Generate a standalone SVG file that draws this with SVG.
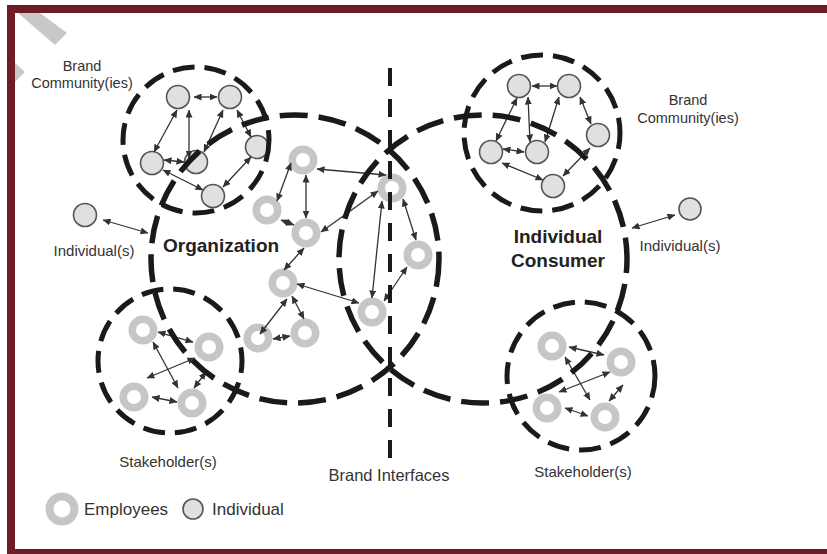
<svg xmlns="http://www.w3.org/2000/svg" width="827" height="554" viewBox="0 0 827 554">
<defs>
<marker id="ah" markerUnits="userSpaceOnUse" markerWidth="8" markerHeight="7" refX="7.5" refY="3.5" orient="auto-start-reverse"><path d="M0,0 L8,3.5 L0,7 z" fill="#333"/></marker>
<style>
.lbl{font-family:"Liberation Sans",Arial,sans-serif;fill:#333;}
.big{font-family:"Liberation Sans",Arial,sans-serif;font-weight:bold;font-size:19px;fill:#222;}
.ring{fill:#fff;stroke:#c6c6c6;stroke-width:7.5;}
.ind{fill:#e0e0e0;stroke:#555;stroke-width:1.6;}
.bnd{fill:none;stroke:#1a1a1a;stroke-width:5.5;stroke-dasharray:28 11;}
.sbnd{fill:none;stroke:#1a1a1a;stroke-width:5;stroke-dasharray:22 10;}
.vline{fill:none;stroke:#1a1a1a;stroke-width:4;stroke-dasharray:18 13;}
.arr{fill:none;stroke:#333;stroke-width:1.3;marker-start:url(#ah);marker-end:url(#ah);}
.frame{fill:#6d1c28;}
.wm{fill:#c8c8c8;}
</style>
</defs>
<rect width="827" height="554" fill="#fff"/>
<polygon class="wm" points="18,13 40,13 67,33 55,45"/>
<polygon class="wm" points="15,63 25,72 15,82"/>

<!-- nodes -->
<g id="community-left">
<circle class="ind" cx="178" cy="97" r="11.5"/>
<circle class="ind" cx="230" cy="97" r="11.5"/>
<circle class="ind" cx="152" cy="163" r="11.5"/>
<circle class="ind" cx="196" cy="162" r="11.5"/>
<circle class="ind" cx="257" cy="147" r="11.5"/>
<circle class="ind" cx="213" cy="196" r="11.5"/>
</g>
<g id="community-right">
<circle class="ind" cx="519" cy="86" r="11.5"/>
<circle class="ind" cx="569" cy="86" r="11.5"/>
<circle class="ind" cx="491" cy="152" r="11.5"/>
<circle class="ind" cx="537" cy="152" r="11.5"/>
<circle class="ind" cx="598" cy="135" r="11.5"/>
<circle class="ind" cx="553" cy="186" r="11.5"/>
</g>
<g id="organization-employees">
<circle class="ring" cx="303" cy="160" r="10.75"/>
<circle class="ring" cx="267" cy="210" r="10.75"/>
<circle class="ring" cx="306" cy="233" r="10.75"/>
<circle class="ring" cx="283" cy="283" r="10.75"/>
<circle class="ring" cx="258" cy="338" r="10.75"/>
<circle class="ring" cx="305" cy="333" r="10.75"/>
<circle class="ring" cx="392" cy="188" r="10.75"/>
<circle class="ring" cx="418" cy="255" r="10.75"/>
<circle class="ring" cx="372" cy="312" r="10.75"/>
</g>
<g id="stakeholders-left">
<circle class="ring" cx="143" cy="330" r="10.75"/>
<circle class="ring" cx="209" cy="347" r="10.75"/>
<circle class="ring" cx="134" cy="397" r="10.75"/>
<circle class="ring" cx="192" cy="403" r="10.75"/>
</g>
<g id="stakeholders-right">
<circle class="ring" cx="552" cy="346" r="10.75"/>
<circle class="ring" cx="621" cy="362" r="10.75"/>
<circle class="ring" cx="547" cy="408" r="10.75"/>
<circle class="ring" cx="605" cy="417" r="10.75"/>
</g>
<g id="individual-left"><circle class="ind" cx="85" cy="215" r="11.5"/></g>
<g id="individual-right"><circle class="ind" cx="690" cy="209" r="11"/></g>

<!-- connectors -->
<g id="connectors">
<line class="arr" x1="194" y1="97" x2="217" y2="97"/>
<line class="arr" x1="177" y1="110" x2="154" y2="152"/>
<line class="arr" x1="189" y1="110" x2="189" y2="158"/>
<line class="arr" x1="223" y1="110" x2="204" y2="152"/>
<line class="arr" x1="237" y1="110" x2="251" y2="137"/>
<line class="arr" x1="164" y1="160" x2="184" y2="162"/>
<line class="arr" x1="163" y1="170" x2="203" y2="190"/>
<line class="arr" x1="251" y1="157" x2="223" y2="187"/>

<line class="arr" x1="532" y1="86" x2="557" y2="86"/>
<line class="arr" x1="517" y1="98" x2="496" y2="141"/>
<line class="arr" x1="528" y1="97" x2="530" y2="142"/>
<line class="arr" x1="559" y1="97" x2="545" y2="142"/>
<line class="arr" x1="580" y1="97" x2="591" y2="124"/>
<line class="arr" x1="503" y1="149" x2="524" y2="152"/>
<line class="arr" x1="502" y1="163" x2="543" y2="180"/>
<line class="arr" x1="590" y1="148" x2="563" y2="176"/>

<line class="arr" x1="291" y1="163" x2="277" y2="201"/>
<line class="arr" x1="306" y1="175" x2="306" y2="218"/>
<line class="arr" x1="317" y1="169" x2="386" y2="175"/>
<line class="arr" x1="281" y1="220" x2="294" y2="225"/>
<line class="arr" x1="321" y1="232" x2="378" y2="191"/>
<line class="arr" x1="304" y1="248" x2="284" y2="270"/>
<line class="arr" x1="297" y1="284" x2="359" y2="303"/>
<line class="arr" x1="287" y1="299" x2="260" y2="334"/>
<line class="arr" x1="292" y1="296" x2="304" y2="319"/>
<line class="arr" x1="273" y1="339" x2="290" y2="336"/>
<line class="arr" x1="382" y1="201" x2="372" y2="298"/>
<line class="arr" x1="403" y1="199" x2="416" y2="240"/>
<line class="arr" x1="407" y1="267" x2="384" y2="301"/>

<line class="arr" x1="158" y1="332" x2="193" y2="342"/>
<line class="arr" x1="153" y1="342" x2="178" y2="388"/>
<line class="arr" x1="195" y1="358" x2="147" y2="378"/>
<line class="arr" x1="206" y1="372" x2="194" y2="388"/>
<line class="arr" x1="152" y1="397" x2="177" y2="402"/>

<line class="arr" x1="569" y1="347" x2="604" y2="355"/>
<line class="arr" x1="565" y1="357" x2="590" y2="400"/>
<line class="arr" x1="610" y1="372" x2="559" y2="392"/>
<line class="arr" x1="623" y1="385" x2="609" y2="401"/>
<line class="arr" x1="565" y1="408" x2="588" y2="416"/>

<line class="arr" x1="103" y1="220" x2="148" y2="233"/>
<line class="arr" x1="632" y1="228" x2="675" y2="215"/>
</g>

<!-- boundaries -->
<g id="organization"><circle class="bnd" cx="295" cy="259" r="144"/></g>
<g id="individual-consumer"><circle class="bnd" cx="483" cy="259" r="144" stroke-dashoffset="14"/></g>
<g id="brand-community-left"><circle class="sbnd" cx="196" cy="140" r="73"/></g>
<g id="brand-community-right"><circle class="sbnd" cx="542" cy="133" r="78" stroke-dashoffset="6"/></g>
<g id="stakeholder-left"><circle class="sbnd" cx="170" cy="361" r="72" stroke-dashoffset="10"/></g>
<g id="stakeholder-right"><circle class="sbnd" cx="581" cy="376" r="74"/></g>
<g id="brand-interfaces"><line class="vline" x1="390" y1="68" x2="390" y2="462"/></g>

<!-- labels -->
<g id="labels">
<text class="lbl" x="82" y="71" font-size="14.5" text-anchor="middle">Brand</text>
<text class="lbl" x="82" y="88" font-size="14.5" text-anchor="middle">Community(ies)</text>
<text class="lbl" x="688" y="105" font-size="14.5" text-anchor="middle">Brand</text>
<text class="lbl" x="688" y="123" font-size="14.5" text-anchor="middle">Community(ies)</text>
<text class="lbl" x="94" y="256" font-size="15" text-anchor="middle">Individual(s)</text>
<text class="lbl" x="680" y="251" font-size="15" text-anchor="middle">Individual(s)</text>
<text class="big" x="163" y="252">Organization</text>
<text class="big" x="558" y="243" text-anchor="middle">Individual</text>
<text class="big" x="558" y="267" text-anchor="middle">Consumer</text>
<text class="lbl" x="168" y="467" font-size="15" text-anchor="middle">Stakeholder(s)</text>
<text class="lbl" x="583" y="477" font-size="15" text-anchor="middle">Stakeholder(s)</text>
<text class="lbl" x="389" y="481" font-size="16.5" text-anchor="middle">Brand Interfaces</text>
</g>

<g id="legend">
<circle cx="62" cy="509" r="12.5" fill="#fff" stroke="#c6c6c6" stroke-width="8"/>
<text class="lbl" x="84" y="515" font-size="17">Employees</text>
<circle class="ind" cx="193" cy="509" r="10"/>
<text class="lbl" x="212" y="515" font-size="17">Individual</text>
</g>

<!-- frame -->
<rect class="frame" x="7" y="5" width="820" height="8"/>
<rect class="frame" x="7" y="5" width="8" height="549"/>
<rect class="frame" x="7" y="549" width="820" height="5"/>
</svg>
